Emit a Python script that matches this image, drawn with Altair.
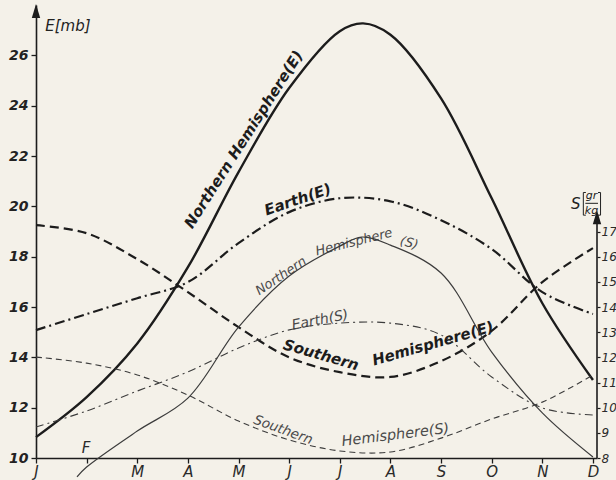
import altair as alt
import pandas as pd

# ---------------- data ----------------
month_letters = ["J", "F", "M", "A", "M", "J", "J", "A", "S", "O", "N", "D"]
months = list(range(12))

# vapour pressure E [mb]
north_E_x = [0, 1, 2, 3, 4, 5, 6, 6.46, 7, 8, 9, 10, 11]
north_E = [10.83, 12.42, 14.55, 17.58, 21.36, 24.7, 26.96, 27.27, 26.82, 24.29, 20.32, 16.15, 13.10]
earth_E = [15.08, 15.72, 16.35, 16.99, 18.54, 19.77, 20.32, 20.2, 19.45, 18.3, 16.59, 15.72]
south_E = [19.25, 18.93, 17.9, 16.59, 15.2, 14.0, 13.41, 13.22, 13.85, 15.05, 16.99, 18.34]

# specific humidity S [gr/kg]
north_S_x = [0.81, 1, 2, 3, 4, 5, 6, 6.43, 7, 8, 9, 10, 11]
north_S = [7.25, 7.64, 9.07, 10.38, 13.2, 15.23, 16.42, 16.78, 16.46, 15.35, 12.21, 9.79, 8.04]
earth_S = [9.23, 9.87, 10.66, 11.42, 12.37, 13.09, 13.36, 13.36, 12.89, 11.22, 9.99, 9.71]
south_S = [12.01, 11.77, 11.3, 10.5, 9.47, 8.72, 8.28, 8.24, 8.79, 9.55, 10.22, 11.3]

E_ticks = [10, 12, 14, 16, 18, 20, 22, 24, 26]
S_ticks = [8, 9, 10, 11, 12, 13, 14, 15, 16, 17]

# ---------------- styling ----------------
FONT = "DejaVu Sans"
INK = "#1c1c1c"
THIN = "#3c3c3c"
LBL_THIN = "#4a4a4a"
BG = "#f4f1e9"
XMAX = 11.08
INTERP = "catmull-rom"

xenc = alt.X(
    "x:Q",
    scale=alt.Scale(domain=[0, XMAX], nice=False, zero=False),
    axis=alt.Axis(
        values=months,
        labelExpr="['J','','M','A','M','J','J','A','S','O','N','D'][datum.value]",
        title=None, grid=False, tickSize=5, tickWidth=1.3, tickColor=INK,
        domainColor=INK, domainWidth=1.6, labelFont=FONT, labelFontSize=15,
        labelFontStyle="italic", labelColor="#2a2a2a", labelPadding=1,
        labelFlush=False,
    ),
)

scaleE = alt.Scale(domain=[10, 28], nice=False, zero=False)
scaleS = alt.Scale(domain=[8, 26], nice=False, zero=False)

axisE = alt.Axis(
    values=E_ticks, title=None, grid=False, orient="left", tickSize=5,
    tickWidth=1.3, tickColor=INK, domainColor=INK, domainWidth=1.6,
    labelFont=FONT, labelFontSize=14, labelFontStyle="italic",
    labelFontWeight="bold", labelColor="#222222", labelPadding=3,
)
axisS = alt.Axis(
    values=S_ticks, title=None, grid=False, orient="right", tickSize=3,
    tickWidth=1.2, tickColor=INK, domain=False, labelFont=FONT,
    labelFontSize=12, labelFontStyle="italic", labelColor="#2a2a2a",
    labelPadding=1,
)


def series(xs, ys):
    return pd.DataFrame({"x": xs, "v": ys})


def line(df, scale, axis, width, color, dash=None):
    kw = dict(interpolate=INTERP, strokeWidth=width, color=color, strokeCap="butt")
    if dash:
        kw["strokeDash"] = dash
    return alt.Chart(df).mark_line(**kw).encode(
        x=xenc, y=alt.Y("v:Q", scale=scale, axis=axis)
    )


def label(text, x, y, angle, size, color, weight="normal", align="center"):
    return alt.Chart().mark_text(
        text=text, angle=angle, font=FONT, fontSize=size, fontStyle="italic",
        fontWeight=weight, color=color, align=align, baseline="middle",
    ).encode(x=alt.datum(x), y=alt.datum(y))


def rule(x1, x2, y1, y2, color="#222222", width=1.0):
    return alt.Chart().mark_rule(color=color, strokeWidth=width).encode(
        x=alt.datum(x1), x2=alt.datum(x2), y=alt.datum(y1), y2=alt.datum(y2)
    )


arrow_shape = "M0,-1L0.6,1L-0.6,1Z"

# ---------------- E group (left axis) ----------------
e_layers = [
    line(series(north_E_x, north_E), scaleE, axisE, 2.4, INK),
    line(series(months, earth_E), scaleE, axisE, 2.2, INK, [10, 4, 2, 4]),
    line(series(months, south_E), scaleE, axisE, 2.2, INK, [9, 5]),
    alt.Chart().mark_point(shape=arrow_shape, size=196, filled=True, color=INK, opacity=1)
    .encode(x=alt.datum(0), y=alt.datum(27.76)),
    label("E[mb]", 0.63, 27.16, 0, 15, "#222222"),
    label("F", 0.99, 10.4, 0, 15, "#2a2a2a"),
    label("Northern Hemisphere(E)", 4.1, 22.66, 302.5, 15, INK, "bold"),
    label("Earth(E)", 5.17, 20.27, 341, 15, INK, "bold"),
    label("Southern", 5.63, 14.1, 16, 15, INK, "bold"),
    label("Hemisphere(E)", 7.84, 14.55, 344, 15, INK, "bold"),
    label("Northern", 4.84, 17.23, 326, 13, LBL_THIN),
    label("Hemisphere", 6.28, 18.58, 346, 13, LBL_THIN),
    label("(S)", 7.37, 18.54, 15, 13, LBL_THIN),
    label("Earth(S)", 5.61, 15.47, 349, 14, LBL_THIN),
    label("Southern", 4.88, 11.11, 20, 13.5, LBL_THIN),
    label("Hemisphere(S)", 7.1, 10.9, 353, 14.5, LBL_THIN),
    # S[gr/kg] axis title (brackets drawn as rules)
    label("S", 10.66, 20.09, 0, 15, "#222222"),
    label("gr", 10.97, 20.42, 0, 11, "#222222"),
    label("kg", 10.97, 19.8, 0, 11, "#222222"),
    rule(10.85, 11.1, 20.12, 20.12),
    rule(10.81, 10.81, 19.65, 20.55),
    rule(10.81, 10.86, 20.55, 20.55),
    rule(10.81, 10.86, 19.65, 19.65),
    rule(11.15, 11.15, 19.65, 20.55),
    rule(11.1, 11.15, 20.55, 20.55),
    rule(11.1, 11.15, 19.65, 19.65),
]
groupE = alt.layer(*e_layers)

# ---------------- S group (right axis) ----------------
s_layers = [
    line(series(north_S_x, north_S), scaleS, axisS, 1.2, THIN),
    line(series(months, earth_S), scaleS, axisS, 1.1, THIN, [8, 4, 2, 4]),
    line(series(months, south_S), scaleS, axisS, 1.1, THIN, [6, 4]),
    alt.Chart().mark_rule(color=INK, strokeWidth=1.6)
    .encode(x=alt.datum(XMAX), y=alt.datum(8), y2=alt.datum(17.4)),
    alt.Chart().mark_point(shape=arrow_shape, size=196, filled=True, color=INK, opacity=1)
    .encode(x=alt.datum(XMAX), y=alt.datum(17.57)),
]
groupS = alt.layer(*s_layers)

chart = (
    alt.layer(groupE, groupS)
    .resolve_scale(y="independent")
    .properties(
        width=561, height=453, autosize="none",
        padding={"left": 36, "top": 5, "right": 19, "bottom": 22},
        background=BG,
    )
    .configure_view(stroke=None)
)

chart.save("out.html", embed_options={"renderer": "svg", "actions": False})
